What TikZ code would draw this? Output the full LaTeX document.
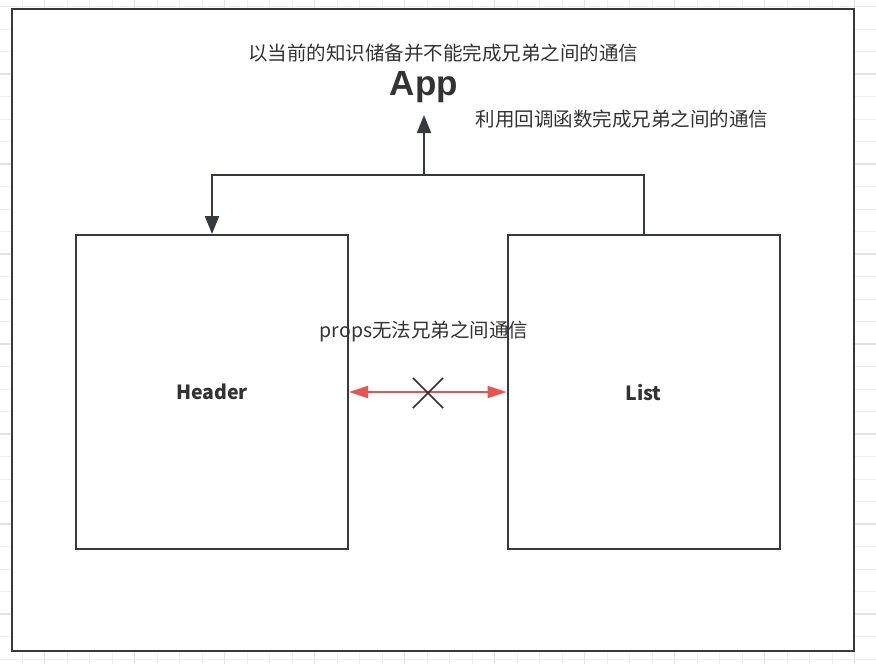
\documentclass[tikz,border=0pt]{standalone}
\usepackage{fontspec}
\setmainfont{Noto Sans CJK SC}
\newfontfamily\appfont{Liberation Sans}
\usepackage{tikz}
\usetikzlibrary{arrows.meta,positioning}

\definecolor{linea}{HTML}{36393D}
\definecolor{testo}{HTML}{333333}
\definecolor{rosso}{HTML}{E85454}
\definecolor{griglia}{HTML}{EEEEEE}
\definecolor{grigliaf}{HTML}{E2E2E2}

\tikzset{
	scatola/.style={draw=linea, line width=2pt, fill=white, minimum width=272pt, minimum height=314pt, inner sep=0pt},
	scritta/.style={text=testo, font=\fontsize{19.5}{22}\selectfont, inner sep=0pt},
	freccia/.style={draw=linea, line width=2pt, -{Triangle[length=18pt,width=14pt]}},
	frecciarossa/.style={draw=rosso, line width=2pt, {Triangle[length=19pt,width=12pt]}-{Triangle[length=19pt,width=12pt]}}
}

\begin{document}
\begin{tikzpicture}[x=1pt,y=-1pt]
	\useasboundingbox (0,0) rectangle (876,664);
	%Griglia
	\fill [white] (0,0) rectangle (876,664);
	\foreach \k in {0,...,39} {
		\pgfmathtruncatemacro{\r}{mod(\k,4)}
		\ifnum\r=2
			\draw [grigliaf, line width=1.2pt] (-0.5+22.5*\k,0) -- (-0.5+22.5*\k,664);
		\else
			\draw [griglia, line width=1pt] (-0.5+22.5*\k,0) -- (-0.5+22.5*\k,664);
		\fi
	}
	\foreach \k in {-1,...,29} {
		\pgfmathtruncatemacro{\r}{mod(\k+4,4)}
		\ifnum\r=2
			\draw [grigliaf, line width=1.2pt] (0,29+22.5*\k) -- (876,29+22.5*\k);
		\else
			\draw [griglia, line width=1pt] (0,29+22.5*\k) -- (876,29+22.5*\k);
		\fi
	}
	%Cornice
	\draw [linea, line width=2.5pt, fill=white] (12,9) rectangle (854,651);
	%Testi
	\node [scritta] (sapere) at (443,53) {以当前的知识储备并不能完成兄弟之间的通信};
	\node [text=testo, font=\appfont\bfseries\fontsize{35}{38}\selectfont, inner sep=0pt] (app) at (424,87) {App};
	\node [scritta] (callback) at (622,119) {利用回调函数完成兄弟之间的通信};
	%Componenti
	\node [scatola, font=\bfseries\fontsize{19.5}{22}\selectfont, text=testo, text depth=0pt] (header) at (212,392) {Header};
	\node [scatola, font=\bfseries\fontsize{19.5}{22}\selectfont, text=testo, text depth=0pt] (list) at (643.5,392) {List};
	\coordinate (nodo) at (424,175);
	\coordinate (punta) at (424,115);
	%Frecce
	\draw [freccia, -] (list.north) |- (nodo);
	\draw [freccia] (nodo) -- (punta);
	\draw [freccia] (nodo) -| (header.north);
	%Props
	\node [scritta] (props) at (424,331) {props无法兄弟之间通信};
	\draw [frecciarossa] (header.east) -- (list.west);
	\coordinate (croce) at (428,393);
	\draw [testo, line width=1.6pt] ([shift={(-15,-15)}]croce) -- ([shift={(15,15)}]croce);
	\draw [testo, line width=1.6pt] ([shift={(-15,15)}]croce) -- ([shift={(15,-15)}]croce);
\end{tikzpicture}
\end{document}
